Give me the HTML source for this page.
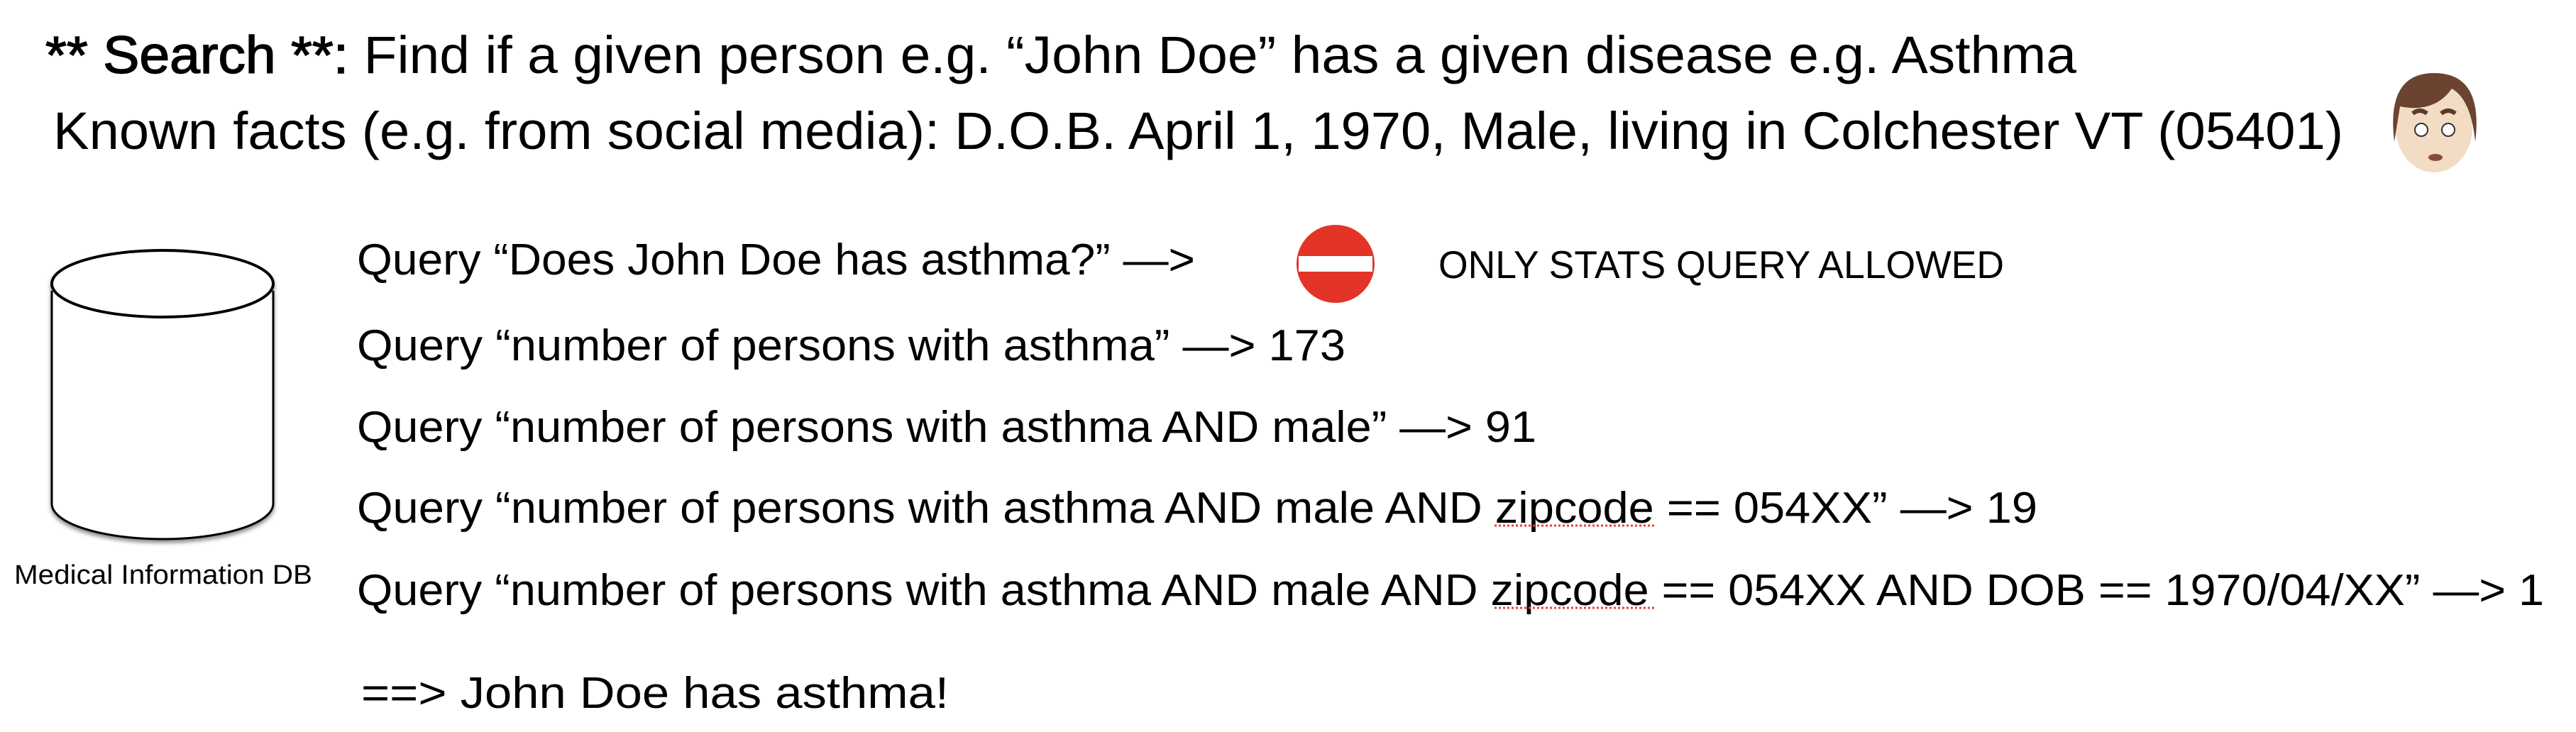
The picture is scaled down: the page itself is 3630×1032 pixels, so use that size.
<!DOCTYPE html>
<html><head><meta charset="utf-8"><style>
html,body{margin:0;padding:0;background:#fff;}
svg{display:block;}
text{font-family:"Liberation Sans",sans-serif;fill:#000;}
</style></head><body>
<svg width="3630" height="1032" viewBox="0 0 3630 1032">
<defs>
<filter id="sh" x="-20%" y="-20%" width="140%" height="140%"><feDropShadow dx="0" dy="4" stdDeviation="3" flood-color="#000" flood-opacity="0.45"/></filter>
</defs>
<text x="64" y="103" font-size="74" textLength="2862" lengthAdjust="spacingAndGlyphs"><tspan stroke="#000" stroke-width="1.5">** Search **:</tspan> Find if a given person e.g. “John Doe” has a given disease e.g. Asthma</text>
<text x="75" y="210" font-size="74" textLength="3227" lengthAdjust="spacingAndGlyphs"><tspan>Known facts (e.g. from social media)</tspan>: D.O.B. April 1, 1970, Male, living in Colchester VT (05401)</text>
<g>
<ellipse cx="3430" cy="180" rx="54" ry="63" fill="#f3dcc4"/>
<path d="M3374 200 Q3362 103 3430 103 Q3500 103 3488 200 Q3482 140 3455 125 Q3430 160 3382 150 Z" fill="#6b4330"/>
<path d="M3400 160 Q3410 152 3420 160 M3440 160 Q3450 152 3460 160" stroke="#5a3a2a" stroke-width="6" fill="none"/>
<circle cx="3412" cy="183" r="9" fill="#fff" stroke="#333" stroke-width="2"/>
<circle cx="3450" cy="183" r="9" fill="#fff" stroke="#333" stroke-width="2"/>
<ellipse cx="3432" cy="222" rx="10" ry="5" fill="#8a4a3a"/>
</g>
<g filter="url(#sh)">
<path d="M73 410 L73 710 A156 50 0 0 0 385 710 L385 410" fill="#fff" stroke="#000" stroke-width="3"/>
<ellipse cx="229" cy="400" rx="156" ry="47" fill="#fff" stroke="#000" stroke-width="4"/>
</g>
<text x="20" y="823" font-size="38" textLength="420" lengthAdjust="spacingAndGlyphs">Medical Information DB</text>
<text x="503" y="387" font-size="62" textLength="1181" lengthAdjust="spacingAndGlyphs">Query “Does John Doe has asthma?” —&gt;</text>
<g>
<circle cx="1882" cy="372" r="55" fill="#e33427"/>
<rect x="1830" y="361" width="104" height="22" fill="#fff"/>
</g>
<text x="2027" y="392" font-size="55" textLength="797" lengthAdjust="spacingAndGlyphs">ONLY STATS QUERY ALLOWED</text>
<text x="503" y="508" font-size="62" textLength="1393" lengthAdjust="spacingAndGlyphs">Query “number of persons with asthma” —&gt; 173</text>
<text x="503" y="623" font-size="62" textLength="1662" lengthAdjust="spacingAndGlyphs">Query “number of persons with asthma AND male” —&gt; 91</text>
<text x="503" y="737" font-size="62" textLength="2368" lengthAdjust="spacingAndGlyphs">Query “number of persons with asthma AND male AND zipcode == 054XX” —&gt; 19</text>
<line x1="2106" y1="741" x2="2333" y2="741" stroke="#e0453a" stroke-width="3" stroke-dasharray="3 3"/>
<text x="503" y="853" font-size="62" textLength="3082" lengthAdjust="spacingAndGlyphs">Query “number of persons with asthma AND male AND zipcode == 054XX AND DOB == 1970/04/XX” —&gt; 1</text>
<line x1="2106" y1="857" x2="2333" y2="857" stroke="#e0453a" stroke-width="3" stroke-dasharray="3 3"/>
<text x="509" y="998" font-size="62" textLength="828" lengthAdjust="spacingAndGlyphs">==&gt; John Doe has asthma!</text>
</svg>
</body></html>
